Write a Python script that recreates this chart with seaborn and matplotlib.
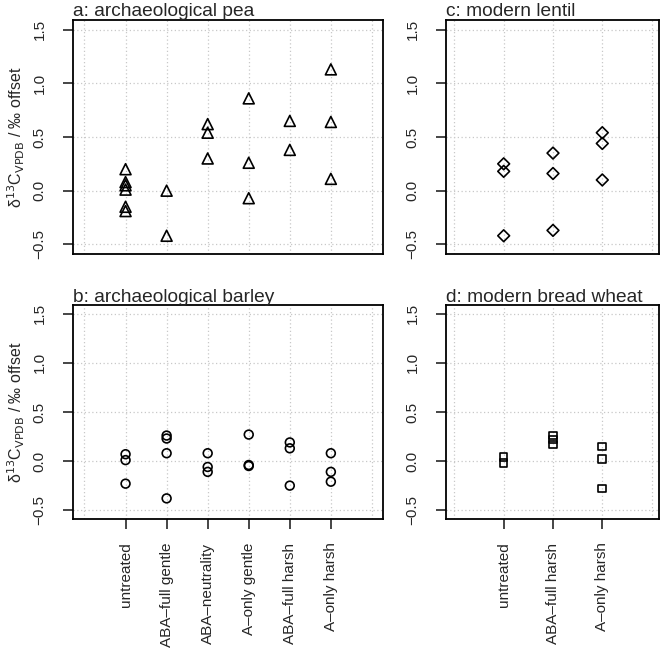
import matplotlib
matplotlib.use("Agg")
import matplotlib.pyplot as plt
import seaborn as sns
import pandas as pd

# treatment orders
arch_treatments = ["untreated", "ABA\u2013full gentle", "ABA\u2013neutrality",
                   "A\u2013only gentle", "ABA\u2013full harsh", "A\u2013only harsh"]
mod_treatments = ["untreated", "ABA\u2013full harsh", "A\u2013only harsh"]

# offsets (per treatment)
pea = [[0.20, 0.08, 0.05, 0.01, -0.15, -0.19],
       [0.00, -0.42],
       [0.62, 0.54, 0.30],
       [0.86, 0.26, -0.07],
       [0.65, 0.38],
       [1.13, 0.64, 0.11]]
barley = [[0.07, 0.01, -0.23],
          [0.26, 0.23, 0.08, -0.38],
          [0.08, -0.06, -0.11],
          [0.27, -0.04, -0.05],
          [0.19, 0.13, -0.25],
          [0.08, -0.11, -0.21]]
lentil = [[0.25, 0.18, -0.42],
          [0.35, 0.16, -0.37],
          [0.54, 0.44, 0.10]]
wheat = [[0.04, -0.02],
         [0.26, 0.22, 0.17],
         [0.15, 0.02, -0.28]]

titles = ["a: archaeological pea", "b: archaeological barley",
          "c: modern lentil", "d: modern bread wheat"]


def to_frame(values, treatments):
    rows = []
    for i, (t, vals) in enumerate(zip(treatments, values)):
        for v in vals:
            rows.append({"treatment": t, "pos": i + 1, "offset": v})
    return pd.DataFrame(rows)


sns.set_style("white")
plt.rcParams["font.family"] = ["Liberation Sans", "DejaVu Sans"]

W, H = 664, 651
fig = plt.figure(figsize=(W / 100, H / 100), dpi=100)


def px(l, t, r, b):
    return [l / W, 1 - b / H, (r - l) / W, (b - t) / H]


panels = [
    (pea, arch_treatments, "^", 62, px(73, 20, 383, 254), False, titles[0]),
    (barley, arch_treatments, "o", 40, px(73, 305, 383, 519), True, titles[1]),
    (lentil, mod_treatments, "D", 36, px(446, 20, 659, 254), False, titles[2]),
    (wheat, mod_treatments, "s", 30, px(446, 305, 659, 519), True, titles[3]),
]

for vals, treats, mk, size, rect, show_x, title in panels:
    ax = fig.add_axes(rect)
    df = to_frame(vals, treats)
    sns.scatterplot(data=df, x="pos", y="offset", marker=mk, s=size,
                    color="black", linewidth=1.2, ax=ax, legend=False)
    ax.collections[0].set_facecolor("none")
    ax.collections[0].set_edgecolor("black")

    n = len(treats)
    if n == 6:
        ax.set_xlim(-0.28, 7.27)
    else:
        ax.set_xlim(-0.17, 4.15)
    ax.set_ylim(-0.59, 1.59)

    # dotted grid
    for gx in range(0, n + 2):
        ax.axvline(gx, color="#c8c8c8", ls=(0, (1, 2)), lw=0.9, zorder=0)
    for gy in [-0.5, 0.0, 0.5, 1.0, 1.5]:
        ax.axhline(gy, color="#c8c8c8", ls=(0, (1, 2)), lw=0.9, zorder=0)

    ax.set_yticks([-0.5, 0.0, 0.5, 1.0, 1.5])
    ax.set_yticklabels(["\u22120.5", "0.0", "0.5", "1.0", "1.5"],
                       rotation=90, va="center", fontsize=11)
    ax.tick_params(axis="y", direction="out", length=7, width=1.2,
                   pad=12, left=True)
    if show_x:
        ax.set_xticks(range(1, n + 1))
        ax.set_xticklabels(treats, rotation=90, fontsize=11)
        ax.tick_params(axis="x", direction="out", length=7, width=1.2,
                       pad=10, bottom=True)
    else:
        ax.set_xticks([])
    ax.set_xlabel("")
    if ax.get_position().x0 < 0.3:
        ax.set_ylabel("\u03b4$^{13}$C$_{\\mathrm{VPDB}}$ / \u2030 offset",
                      fontsize=11.5, labelpad=4)
    else:
        ax.set_ylabel("")
    for sp in ax.spines.values():
        sp.set_color("black")
        sp.set_linewidth(1.3)
    ax.set_title(title, loc="left", fontsize=13.8, pad=2)

fig.savefig("out.png", dpi=100)
